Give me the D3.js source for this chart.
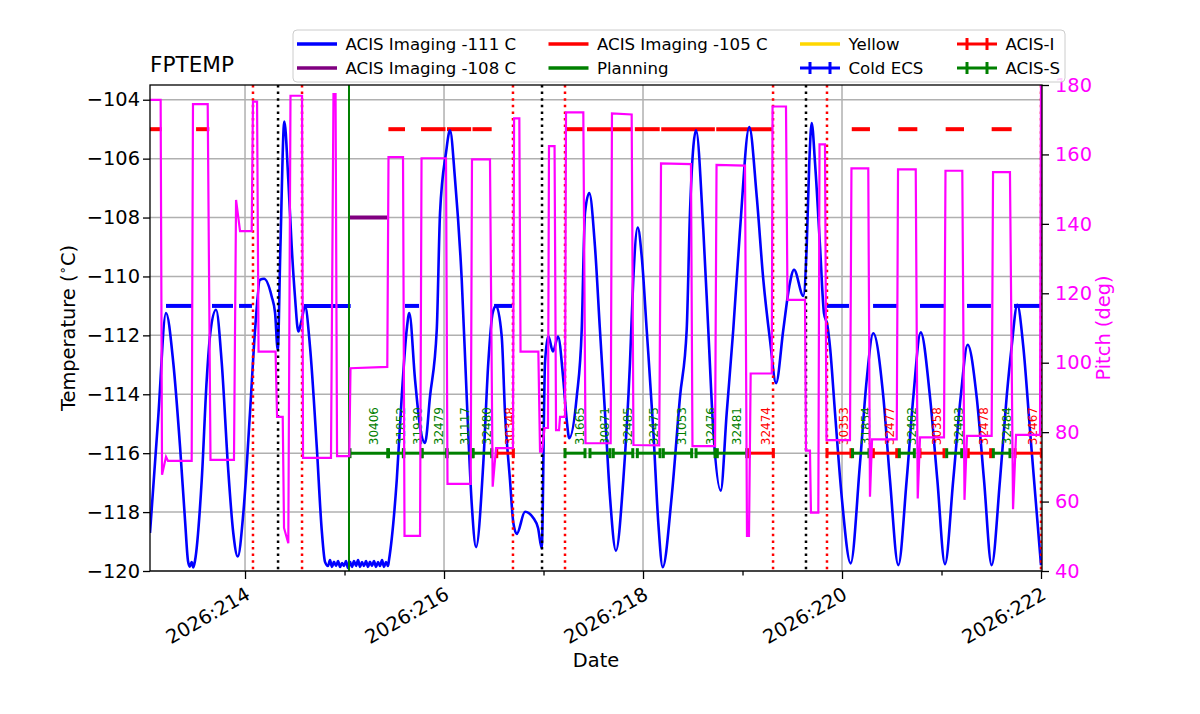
<!DOCTYPE html>
<html><head><meta charset="utf-8">
<script src="https://cdn.jsdelivr.net/npm/d3@7"></script>
<style>body{margin:0;background:#fff} text{font-family:"DejaVu Sans",sans-serif}</style>
</head><body><svg id="c" width="1200" height="714"></svg>
<script>
// ---------------- DATA ----------------
const xMajorTicks = [214, 216, 218, 220, 222];
const xMinorTicks = [215, 217, 219, 221];
const yTicks = [-120, -118, -116, -114, -112, -110, -108, -106, -104];
const pitchTicks = [40, 60, 80, 100, 120, 140, 160, 180];

// FPTEMP (day-of-year, deg C)
const fptemp = [
[213.045,-118.71],[213.126,-114.87],[213.206,-111.24],[213.279,-112.93],[213.347,-115.78],[213.397,-118.27],[213.427,-119.66],[213.445,-119.85],[213.464,-119.70],[213.480,-119.88],[213.497,-119.66],[213.565,-116.91],[213.615,-113.51],[213.655,-111.81],[213.709,-111.13],[213.766,-112.93],[213.829,-116.46],[213.882,-118.71],[213.927,-119.51],[213.983,-118.03],[214.050,-114.63],[214.101,-111.81],[214.151,-110.11],[214.191,-110.08],[214.268,-110.68],[214.302,-111.24],[214.329,-112.49],[214.355,-109.10],[214.395,-104.74],[214.435,-106.72],[214.469,-108.98],[214.502,-110.68],[214.536,-111.87],[214.570,-111.47],[214.603,-111.00],[214.653,-112.38],[214.721,-115.78],[214.771,-118.61],[214.804,-119.69],
[214.834,-119.83],[214.854,-119.63],[214.874,-119.86],[214.894,-119.69],[214.915,-119.83],[214.935,-119.66],[214.955,-119.86],[214.975,-119.73],[214.995,-119.83],[215.015,-119.66],[215.035,-119.90],[215.055,-119.69],[215.075,-119.86],[215.095,-119.66],[215.116,-119.83],[215.136,-119.63],[215.156,-119.86],[215.176,-119.70],[215.196,-119.83],[215.216,-119.66],[215.236,-119.86],[215.256,-119.69],[215.276,-119.83],[215.296,-119.66],[215.317,-119.86],[215.337,-119.70],[215.357,-119.83],[215.377,-119.63],[215.397,-119.86],[215.417,-119.70],[215.437,-119.83],[215.447,-119.63],
[215.525,-116.91],[215.575,-114.08],[215.625,-111.81],[215.651,-111.24],[215.709,-113.51],[215.759,-115.10],[215.809,-115.65],[215.859,-114.08],[215.927,-111.81],[215.960,-107.84],[216.020,-105.80],[216.060,-105.04],[216.111,-106.72],[216.178,-110.11],[216.228,-114.08],[216.278,-117.69],[216.322,-119.19],[216.395,-116.33],[216.445,-112.93],[216.489,-111.24],[216.523,-111.00],[216.580,-112.04],[216.613,-114.63],[216.663,-116.91],[216.697,-118.37],[216.731,-118.74],[216.814,-117.99],[216.898,-118.20],[216.945,-118.54],[216.982,-119.23],[217.015,-112.93],[217.048,-112.02],[217.095,-112.55],[217.146,-112.04],[217.199,-113.51],[217.233,-114.87],[217.259,-115.49],[217.334,-114.08],[217.384,-111.81],[217.417,-107.84],[217.460,-107.17],[217.517,-108.98],[217.567,-111.81],[217.618,-114.63],[217.668,-117.48],[217.728,-119.31],[217.802,-116.91],[217.869,-112.93],[217.902,-110.11],[217.947,-108.34],[217.987,-109.32],[218.037,-111.81],[218.103,-115.21],[218.154,-118.38],[218.198,-119.87],[218.288,-117.48],[218.372,-114.08],[218.439,-111.81],[218.472,-107.84],[218.533,-105.04],[218.606,-108.42],[218.656,-111.81],[218.706,-115.21],[218.781,-117.27],[218.841,-114.64],[218.907,-111.81],[218.975,-108.42],[219.068,-104.93],[219.143,-107.29],[219.209,-110.11],[219.276,-112.15],[219.337,-113.62],[219.410,-111.81],[219.470,-110.34],[219.518,-109.77],[219.611,-110.66],[219.645,-108.98],[219.671,-106.15],[219.695,-104.79],[219.729,-106.15],[219.779,-108.98],[219.819,-111.25],[219.852,-111.64],[219.879,-112.38],[219.930,-114.64],[219.997,-117.48],[220.087,-119.74],[220.181,-116.34],[220.248,-113.51],[220.314,-111.93],[220.415,-114.08],[220.482,-116.91],[220.566,-119.80],[220.650,-116.91],[220.717,-114.08],[220.791,-111.90],[220.884,-114.08],[220.958,-116.91],[221.035,-119.77],[221.118,-116.91],[221.193,-114.08],[221.263,-112.32],[221.353,-114.08],[221.427,-116.91],[221.504,-119.80],[221.588,-116.91],[221.655,-114.08],[221.705,-112.38],[221.762,-110.96],[221.822,-112.38],[221.889,-115.21],[221.957,-118.03],[222.000,-119.80]
];

// Pitch (day-of-year, deg)
const pitch = [
[213.045,175.7],[213.152,175.7],[213.166,67.7],[213.206,72.9],[213.226,71.7],[213.464,71.7],[213.477,174.5],[213.625,174.5],[213.653,72.0],[213.889,72.0],[213.910,146.9],[213.950,137.9],[214.067,137.9],[214.080,175.2],[214.121,175.2],[214.136,103.2],[214.307,103.2],[214.322,84.4],[214.379,84.4],[214.392,52.4],[214.435,48.0],[214.457,176.9],[214.573,176.9],[214.583,72.6],[214.864,72.6],[214.889,177.4],[214.910,177.4],[214.925,73.1],[215.048,73.1],[215.060,98.4],[215.430,98.8],[215.442,159.2],[215.588,159.2],[215.603,50.1],[215.759,50.1],[215.774,158.9],[216.020,158.9],[216.035,65.1],[216.268,65.1],[216.281,158.6],[216.462,158.6],[216.489,64.3],[216.523,75.4],[216.693,75.4],[216.704,170.4],[216.757,170.4],[216.769,103.2],[216.948,103.2],[216.965,74.4],[216.985,74.4],[217.010,81.2],[217.045,81.2],[217.055,162.4],[217.111,162.4],[217.126,80.6],[217.156,80.6],[217.166,84.4],[217.216,84.4],[217.226,172.1],[217.400,172.1],[217.422,76.8],[217.675,76.8],[217.688,171.8],[217.886,171.5],[217.904,76.3],[218.163,76.2],[218.181,157.4],[218.482,157.2],[218.497,76.0],[218.724,76.0],[218.739,157.0],[219.025,156.8],[219.045,50.1],[219.065,50.1],[219.082,96.9],[219.294,96.9],[219.302,173.8],[219.437,173.8],[219.452,118.1],[219.628,118.1],[219.638,74.7],[219.678,74.7],[219.688,56.8],[219.762,56.8],[219.774,162.9],[219.829,162.9],[219.844,77.7],[220.080,77.7],[220.095,156.0],[220.264,156.0],[220.281,61.4],[220.302,77.9],[220.550,77.9],[220.563,155.7],[220.741,155.7],[220.761,60.9],[220.784,78.5],[221.025,78.5],[221.040,155.3],[221.209,155.3],[221.231,60.5],[221.256,78.9],[221.504,78.9],[221.518,154.9],[221.688,154.9],[221.719,57.8],[221.749,79.2],[221.990,79.2],[222.000,180.0]
];

// Limit segments [start, end] (day-of-year)
const limit111 = [[213.206,213.467],[213.668,213.879],[213.940,214.070],[214.593,215.062],[215.608,215.749],[216.503,216.683],[219.849,220.070],[220.312,220.553],[220.784,221.025],[221.256,221.497],[221.729,221.990]];
const limit108 = [[215.052,215.427]];
const limit105 = [[213.045,213.163],[213.508,213.641],[215.441,215.608],[215.769,216.015],[216.030,216.273],[216.286,216.479],[217.216,217.405],[217.437,217.893],[217.918,218.168],[218.183,218.722],[218.736,219.307],[220.098,220.281],[220.566,220.757],[221.042,221.226],[221.504,221.705]];
const limitValues = {m111: -111, m108: -108, m105: -105};

const planningTimes = [215.045];
const radRedTimes = [214.080, 214.573, 216.693, 217.216, 219.307, 219.849, 222.0];
const radBlackTimes = [214.332, 216.985, 219.638];

// Observations
const obsIds = ["30406","31852","31930","32479","31117","32480","30348","31665","30871","32485","32475","31053","32476","32481","32474","30353","31854","32477","32482","30358","32483","32478","32484","32467"];
const obsInstr = ["S","S","S","S","S","S","I","S","S","S","S","S","S","S","I","I","S","I","S","I","S","I","S","I"];
const obsStart = [215.055,215.442,215.596,215.781,216.032,216.293,216.530,217.216,217.467,217.701,217.943,218.204,218.533,218.747,219.068,219.849,220.106,220.315,220.576,220.784,221.052,221.269,221.521,221.739];
const obsEnd   = [215.434,215.591,215.776,216.027,216.288,216.479,216.697,217.417,217.668,217.897,218.171,218.489,218.724,219.042,219.310,220.090,220.271,220.550,220.727,221.025,221.203,221.494,221.688,222.007];
const obsLevel = -116;

const legendLabels = ["ACIS Imaging -111 C","ACIS Imaging -108 C","ACIS Imaging -105 C","Planning","Yellow","Cold ECS","ACIS-I","ACIS-S"];
const legendColors = ["#0000ff","#800080","#ff0000","#008000","#ffd700","#0000ff","#ff0000","#008000"];
const legendKinds  = ["line","line","line","line","line","err","err","err"];

// ---------------- DRAW ----------------
const L = 150, R = 1042, T = 85, B = 571;
const svg = d3.select("#c");
const x = d3.scaleLinear().domain([213.045, 222.01]).range([L, R]);
const y = d3.scaleLinear().domain([-120, -103.5]).range([B, T]);
const yp = d3.scaleLinear().domain([40, 180]).range([B, T]);
const FONT = "DejaVu Sans, sans-serif";
const colI = "#ff0000", colS = "#008000";

svg.append("defs").append("clipPath").attr("id","clip")
  .append("rect").attr("x",L).attr("y",T).attr("width",R-L).attr("height",B-T);

const grid = svg.append("g");
grid.selectAll("line.h").data(yTicks).join("line")
  .attr("x1",L).attr("x2",R).attr("y1",d=>y(d)).attr("y2",d=>y(d))
  .attr("stroke","#b0b0b0").attr("stroke-width",1.5);
grid.selectAll("line.v").data(xMajorTicks).join("line")
  .attr("y1",T).attr("y2",B).attr("x1",d=>x(d)).attr("x2",d=>x(d))
  .attr("stroke","#b0b0b0").attr("stroke-width",1.5);

const plot = svg.append("g").attr("clip-path","url(#clip)");

function segs(arr, val, color){
  plot.append("g").selectAll("line").data(arr).join("line")
    .attr("x1",d=>x(d[0])).attr("x2",d=>x(d[1]))
    .attr("y1",y(val)).attr("y2",y(val))
    .attr("stroke",color).attr("stroke-width",4);
}
segs(limit111, limitValues.m111, "#0000ff");
segs(limit108, limitValues.m108, "#800080");
segs(limit105, limitValues.m105, "#ff0000");

// temperature curve
plot.append("path").datum(fptemp)
  .attr("d", d3.line().x(d=>x(d[0])).y(d=>y(d[1])).curve(d3.curveMonotoneX))
  .attr("fill","none").attr("stroke","#0000ff").attr("stroke-width",2.6);

// vertical lines
plot.append("g").selectAll("line").data(radRedTimes).join("line")
  .attr("x1",d=>x(d)).attr("x2",d=>x(d)).attr("y1",T).attr("y2",B)
  .attr("stroke","#ff0000").attr("stroke-width",2.5).attr("stroke-dasharray","2.5,4.1");
plot.append("g").selectAll("line").data(radBlackTimes).join("line")
  .attr("x1",d=>x(d)).attr("x2",d=>x(d)).attr("y1",T).attr("y2",B)
  .attr("stroke","#000000").attr("stroke-width",2.5).attr("stroke-dasharray","2.5,4.1");
plot.append("g").selectAll("line").data(planningTimes).join("line")
  .attr("x1",d=>x(d)).attr("x2",d=>x(d)).attr("y1",T).attr("y2",B)
  .attr("stroke","#008000").attr("stroke-width",2);

// observations
const obs = obsIds.map((id,i)=>({id, instr:obsInstr[i], s:obsStart[i], e:obsEnd[i]}));
const og = plot.append("g");
const oy = y(obsLevel);
obs.forEach(o=>{
  const c = o.instr==="I" ? colI : colS;
  og.append("line").attr("x1",x(o.s)).attr("x2",x(o.e)).attr("y1",oy).attr("y2",oy)
    .attr("stroke",c).attr("stroke-width",3);
  [o.s,o.e].forEach(t=>{
    og.append("line").attr("x1",x(t)).attr("x2",x(t)).attr("y1",oy-5).attr("y2",oy+5)
      .attr("stroke",c).attr("stroke-width",3);
  });
  const mx = x((o.s+o.e)/2) + 9;
  og.append("text").attr("transform",`translate(${mx},${oy-8}) rotate(-90)`)
    .attr("font-size",12).attr("fill",c).attr("font-family",FONT).text(o.id);
});

// pitch on twin axis
plot.append("path").datum(pitch)
  .attr("d", d3.line().x(d=>x(d[0])).y(d=>yp(d[1])))
  .attr("fill","none").attr("stroke","#ff00ff").attr("stroke-width",2.2);

// frame
svg.append("rect").attr("x",L).attr("y",T).attr("width",R-L).attr("height",B-T)
  .attr("fill","none").attr("stroke","#000").attr("stroke-width",1.3);

// axes
const fmtMinus = d => String(d).replace("-", "\u2212");
const ax = svg.append("g").attr("transform",`translate(${L},0)`)
  .call(d3.axisLeft(y).tickValues(yTicks).tickSize(7).tickPadding(3).tickFormat(fmtMinus));
const axR = svg.append("g").attr("transform",`translate(${R},0)`)
  .call(d3.axisRight(yp).tickValues(pitchTicks).tickSize(7).tickPadding(6));
const axB = svg.append("g").attr("transform",`translate(0,${B})`)
  .call(d3.axisBottom(x).tickValues(xMajorTicks).tickSize(8).tickFormat(d=>"2026:"+d));
const axBm = svg.append("g").attr("transform",`translate(0,${B})`)
  .call(d3.axisBottom(x).tickValues(xMinorTicks).tickSize(4.5).tickFormat(""));
[ax,axR,axB,axBm].forEach(g=>{
  g.select(".domain").remove();
  g.selectAll(".tick line").attr("stroke","#000").attr("stroke-width",1.3);
  g.selectAll("text").attr("font-size",19.4).attr("font-family",FONT);
});
ax.selectAll("text").attr("fill","#000");
axR.selectAll("text").attr("fill","#ff00ff");
axB.selectAll(".tick text").attr("fill","#000")
  .attr("text-anchor","end").attr("y",0).attr("dy","0.72em")
  .attr("transform","translate(-1,15) rotate(-30)");

// labels
svg.append("text").attr("x",L).attr("y",72).attr("font-size",21.6).attr("font-family",FONT).text("FPTEMP");
svg.append("text").attr("x",(L+R)/2).attr("y",667).attr("text-anchor","middle")
  .attr("font-size",19.4).attr("font-family",FONT).text("Date");
const yl = svg.append("text").attr("transform",`translate(75,${(T+B)/2}) rotate(-90)`)
  .attr("text-anchor","middle").attr("font-size",19.4).attr("font-family",FONT);
yl.append("tspan").text("Temperature (");
yl.append("tspan").attr("dy",-8).attr("font-size",13.5).text("\u2218");
yl.append("tspan").attr("dy",8).text("C)");
svg.append("text").attr("transform",`translate(1110,${(T+B)/2}) rotate(-90)`)
  .attr("text-anchor","middle").attr("font-size",19.4).attr("font-family",FONT)
  .attr("fill","#ff00ff").text("Pitch (deg)");

// legend
const lg = svg.append("g");
lg.append("rect").attr("x",293).attr("y",30).attr("width",772).attr("height",52).attr("rx",4)
  .attr("fill","#fff").attr("fill-opacity",0.8).attr("stroke","#cccccc").attr("stroke-width",1);
const colX = [297, 548.5, 800, 957];
const rowY = [44, 68];
legendLabels.forEach((lab,i)=>{
  const cx = colX[Math.floor(i/2)], cy = rowY[i%2], c = legendColors[i];
  lg.append("line").attr("x1",cx).attr("x2",cx+40).attr("y1",cy).attr("y2",cy)
    .attr("stroke",c).attr("stroke-width",legendKinds[i]==="err"?3:3.5);
  if (legendKinds[i]==="err"){
    [cx+10, cx+30].forEach(tx=>lg.append("line").attr("x1",tx).attr("x2",tx)
      .attr("y1",cy-6).attr("y2",cy+6).attr("stroke",c).attr("stroke-width",3));
  }
  lg.append("text").attr("x",cx+48.5).attr("y",cy+6).attr("font-size",16.6)
    .attr("font-family",FONT).text(lab);
});
</script></body></html>
